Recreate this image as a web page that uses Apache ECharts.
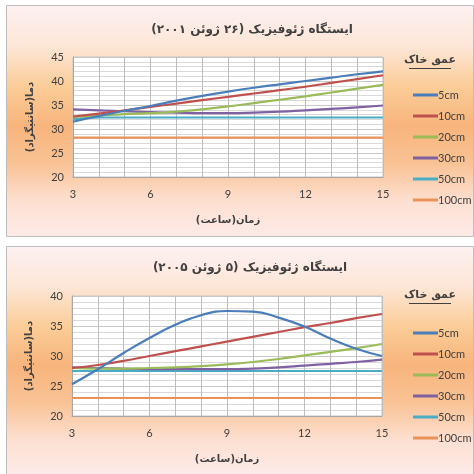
<!DOCTYPE html>
<html><head><meta charset="utf-8">
<script src="https://cdn.jsdelivr.net/npm/echarts@6/dist/echarts.min.js"></script>
<style>html,body{margin:0;padding:0;background:#fff}#c{width:474px;height:474px}</style>
</head><body><div id="c"></div>
<script>
const hours = [3,4,5,6,7,8,9,10,11,12,13,14,15];
const depths = ['5cm','10cm','20cm','30cm','50cm','100cm'];
const xTicks = [3,6,9,12,15];
const titleTop = 'ایستگاه ژئوفیزیک (۲۶ ژوئن ۲۰۰۱)';
const titleBottom = 'ایستگاه ژئوفیزیک (۵ ژوئن ۲۰۰۵)';
const yTitle = 'دما(سانتیگراد)';
const xTitle = 'زمان(ساعت)';
const legendTitle = 'عمق خاک';

// 26 June 2001
const y2001_5cm   = [31.5,32.7,33.8,34.8,35.9,36.9,37.8,38.6,39.3,40.0,40.7,41.4,42.0];
const y2001_10cm  = [32.6,33.2,33.9,34.6,35.3,36.0,36.7,37.4,38.1,38.8,39.6,40.4,41.2];
const y2001_20cm  = [32.5,32.8,33.1,33.3,33.6,34.1,34.7,35.4,36.1,36.8,37.6,38.4,39.2];
const y2001_30cm  = [34.1,33.9,33.7,33.5,33.4,33.3,33.3,33.4,33.6,33.9,34.2,34.5,34.9];
const y2001_50cm  = [32.0,32.4,32.4,32.4,32.4,32.4,32.4,32.4,32.4,32.4,32.4,32.4,32.4];
const y2001_100cm = [28.2,28.2,28.2,28.2,28.2,28.2,28.2,28.2,28.2,28.2,28.2,28.2,28.2];
// 5 June 2005
const y2005_5cm   = [25.3,27.8,30.5,33.0,35.2,36.8,37.5,37.4,36.4,34.9,32.9,31.2,30.0];
const y2005_10cm  = [28.0,28.5,29.2,30.0,30.8,31.6,32.4,33.2,34.0,34.8,35.5,36.3,37.0];
const y2005_20cm  = [28.0,27.9,27.9,28.0,28.1,28.3,28.6,29.0,29.5,30.1,30.7,31.3,32.0];
const y2005_30cm  = [28.1,28.0,27.9,27.8,27.8,27.8,27.8,27.9,28.1,28.4,28.7,29.0,29.4];
const y2005_50cm  = [27.5,27.5,27.5,27.5,27.5,27.5,27.5,27.5,27.5,27.5,27.5,27.5,27.5];
const y2005_100cm = [23.0,23.0,23.0,23.0,23.0,23.0,23.0,23.0,23.0,23.0,23.0,23.0,23.0];

const colors = ['#4a7ebb','#c0504d','#9bbb59','#7f60a1','#4bacc6','#eb9258'];
const set2001 = [y2001_5cm,y2001_10cm,y2001_20cm,y2001_30cm,y2001_50cm,y2001_100cm];
const set2005 = [y2005_5cm,y2005_10cm,y2005_20cm,y2005_30cm,y2005_50cm,y2005_100cm];
const rtl = s => '\u202B' + s + '\u202C';
const FONT = 'Lato, "DejaVu Sans", sans-serif';
const PFONT = '"DejaVu Sans", sans-serif';

function bgFill(){
  return new echarts.graphic.LinearGradient(0,0,0,1,[
    {offset:0,color:'#fdf1f2'},{offset:0.18,color:'#fde6d6'},
    {offset:0.35,color:'#fbcd98'},{offset:0.52,color:'#f8b47c'},
    {offset:0.68,color:'#f9c294'},{offset:0.85,color:'#fde0d2'},{offset:1,color:'#fdebe8'}]);
}
function mkX(gi){
  return {type:'value',gridIndex:gi,min:3,max:15,interval:3,
    axisLine:{show:true,lineStyle:{color:'#a6a6a6'}},axisTick:{show:false},
    axisLabel:{color:'#404040',fontSize:11,fontFamily:FONT,margin:12,
      formatter:v=>xTicks.includes(v)?String(v):''},
    splitLine:{show:true,lineStyle:{color:'#bdbdbd',width:1}},
    minorTick:{show:false,splitNumber:3},
    minorSplitLine:{show:true,lineStyle:{color:'#bdbdbd',width:1}},
    name:rtl(xTitle),nameLocation:'middle',nameGap:38,
    nameTextStyle:{fontSize:10,fontWeight:'bold',color:'#404040',fontFamily:PFONT}};
}
function mkY(gi,max){
  return {type:'value',gridIndex:gi,min:20,max:max,interval:5,
    axisLine:{show:true,lineStyle:{color:'#a6a6a6'}},axisTick:{show:false},
    axisLabel:{color:'#404040',fontSize:11,fontFamily:FONT,margin:9},
    splitLine:{show:true,lineStyle:{color:'#c8c8c8',width:1}},
    minorTick:{show:false,splitNumber:5},
    minorSplitLine:{show:true,lineStyle:{color:'#d9d9d9',width:1}},
    name:rtl(yTitle),nameLocation:'middle',nameGap:38,nameRotate:90,
    nameTextStyle:{fontSize:10,fontWeight:'bold',color:'#404040',fontFamily:PFONT}};
}
const series = [];
[set2001,set2005].forEach((set,gi)=>{
  set.forEach((arr,i)=>{
    series.push({type:'line',name:depths[i],xAxisIndex:gi,yAxisIndex:gi,
      data:hours.map((h,k)=>[h,arr[k]]),smooth:true,showSymbol:false,symbol:'none',
      lineStyle:{width:2.2,color:colors[i]},itemStyle:{color:colors[i]},z:10-i});
  });
});
function mkLegend(top){
  return {orient:'vertical',left:408,top:top,itemWidth:25,itemHeight:3,itemGap:7,
    icon:'rect',data:depths,selectedMode:false,
    textStyle:{fontSize:11,color:'#404040',fontFamily:FONT,lineHeight:14,padding:[0,0,0,-5]}};
}
function legendHead(top){
  return {text:'{t|' + rtl(legendTitle) + '}\n{u|}',left:425,top:top,textAlign:'center',
    textStyle:{rich:{
      t:{fontSize:11,fontWeight:'bold',color:'#404040',fontFamily:PFONT,lineHeight:14,align:'center'},
      u:{width:42,height:1,lineHeight:3,backgroundColor:'#404040',align:'center'}}}};
}
const chart = echarts.init(document.getElementById('c'),null,{renderer:'canvas'});
chart.setOption({
  animation:false,
  color:colors,
  graphic:{elements:[
    {type:'rect',shape:{x:6.5,y:5.5,width:467,height:231},style:{fill:bgFill(),stroke:'#bdbdbd',lineWidth:1},z:-10},
    {type:'rect',shape:{x:6.5,y:246.5,width:467,height:228},style:{fill:bgFill(),stroke:'#bdbdbd',lineWidth:1},z:-10}
  ]},
  title:[
    {text:rtl(titleTop),left:247,top:19,textAlign:'center',
      textStyle:{fontSize:12,fontWeight:'bold',color:'#404040',fontFamily:PFONT}},
    {text:rtl(titleBottom),left:245,top:257,textAlign:'center',
      textStyle:{fontSize:12,fontWeight:'bold',color:'#404040',fontFamily:PFONT}},
    legendHead(48),
    legendHead(283)
  ],
  legend:[mkLegend(83),mkLegend(321)],
  grid:[
    {left:73,top:57,width:310,height:120,show:true,backgroundColor:'#ffffff',borderColor:'#c4c4c4',borderWidth:1},
    {left:72,top:296,width:310,height:120,show:true,backgroundColor:'#ffffff',borderColor:'#c4c4c4',borderWidth:1}
  ],
  xAxis:[mkX(0),mkX(1)],
  yAxis:[mkY(0,45),mkY(1,40)],
  series:series
});
</script></body></html>
